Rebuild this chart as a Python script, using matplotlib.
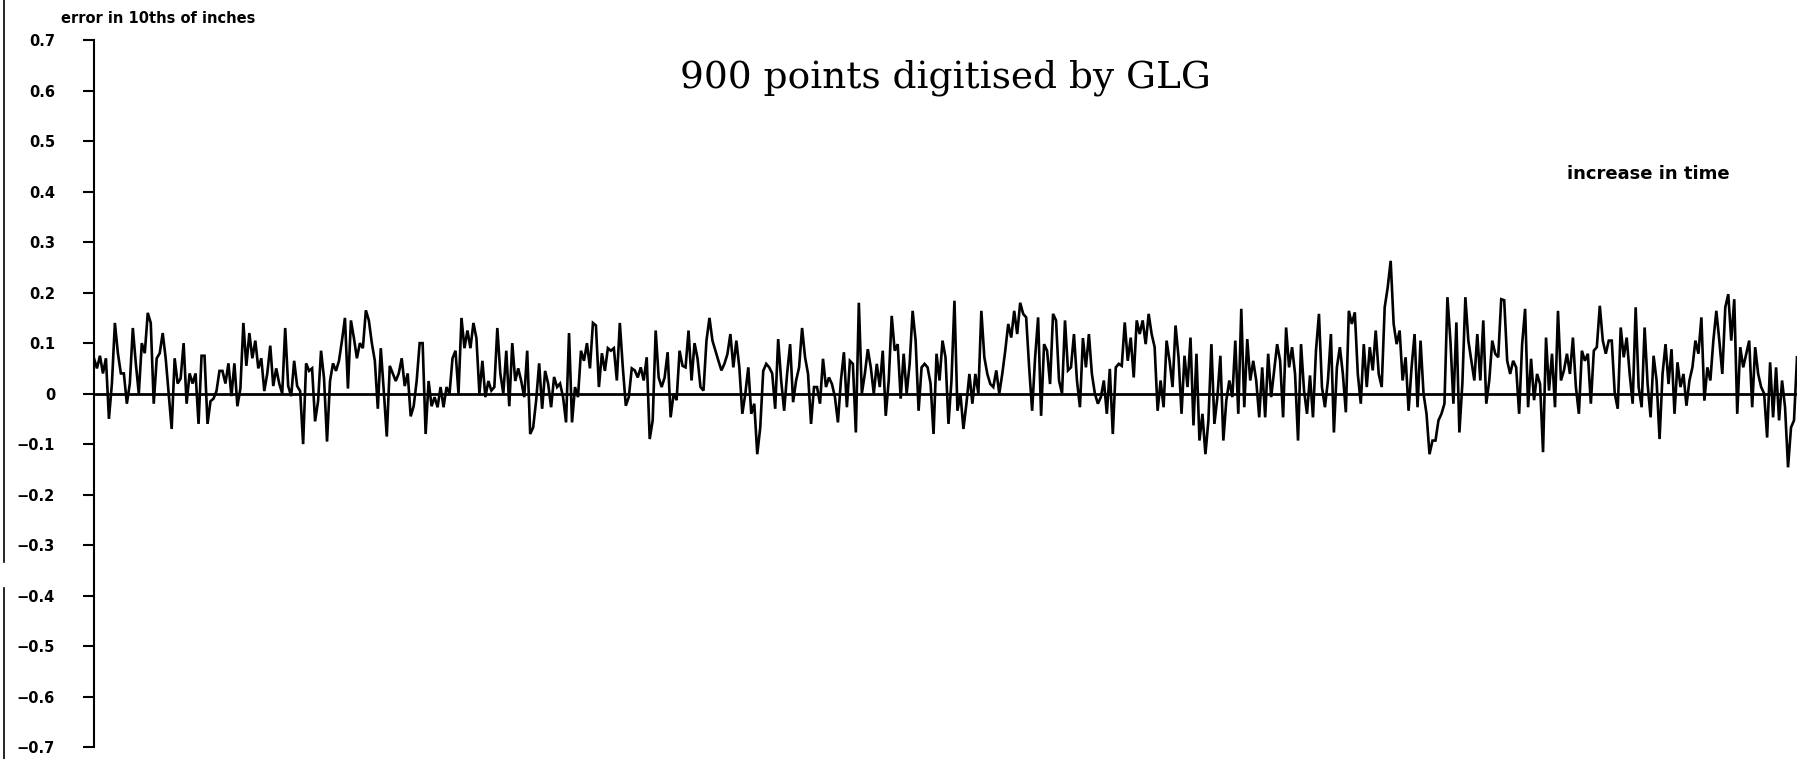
import numpy as np
import matplotlib
matplotlib.use("Agg")
import matplotlib.pyplot as plt
from matplotlib.lines import Line2D

seg1 = [0.07, 0.05, 0.075, 0.04, 0.07, -0.05, 0.02, 0.14, 0.08, 0.04, 0.04, -0.02, 0.02, 0.13,
        0.06, 0.0, 0.1, 0.08, 0.16, 0.14, -0.02, 0.07, 0.08, 0.12, 0.07, 0.0, -0.07, 0.07, 0.02,
        0.03, 0.1, -0.02, 0.04, 0.02, 0.04, -0.06, 0.075, 0.075, -0.06, -0.015, -0.01, 0.005,
        0.045, 0.045, 0.02, 0.06, -0.005, 0.06, -0.025, 0.01, 0.14, 0.055, 0.12, 0.07, 0.105,
        0.05, 0.07, 0.005]
seg2 = [0.04, 0.095, 0.015, 0.05, 0.02, 0.0, 0.13, 0.015, -0.005, 0.065, 0.015, 0.005, -0.1,
        0.06, 0.045, 0.05, -0.055, -0.015, 0.085, 0.03, -0.095, 0.025, 0.06, 0.045, 0.065,
        0.105, 0.15, 0.01, 0.145, 0.11, 0.07, 0.1, 0.09, 0.165, 0.145, 0.1, 0.065, -0.03, 0.09,
        0.005, -0.085, 0.055, 0.04, 0.025, 0.04, 0.07, 0.015, 0.04, -0.045, -0.025, 0.025, 0.1]
seg3 = [0.1, -0.08, 0.025, -0.025, -0.007, -0.027, 0.013, -0.027, 0.013, 0.0, 0.07, 0.085,
        0.0, 0.15, 0.09, 0.125, 0.09, 0.14, 0.11, 0.0, 0.065, -0.007, 0.025, 0.006, 0.013,
        0.13, 0.04, 0.0, 0.085, -0.025, 0.1, 0.025, 0.05, 0.025, -0.007, 0.085, -0.08, -0.067,
        -0.013, 0.06, -0.03, 0.045, 0.02, -0.027, 0.033, 0.013, 0.02, -0.007, -0.057, 0.12,
        -0.057, 0.013, -0.007, 0.085, 0.065, 0.1, 0.05, 0.14, 0.135, 0.013, 0.08, 0.045, 0.09]
seg4 = [0.085, 0.09, 0.026, 0.14, 0.052, -0.024, -0.007, 0.05, 0.046, 0.032, 0.052, 0.026,
        0.072, -0.09, -0.053, 0.125, 0.032, 0.013, 0.032, 0.082, -0.047, 0.0, -0.013, 0.085,
        0.055, 0.052, 0.125, 0.026, 0.1, 0.07, 0.013, 0.006, 0.105, 0.15, 0.105, 0.085, 0.065,
        0.046, 0.059, 0.078, 0.118, 0.052, 0.105, 0.052, -0.04, 0.0, 0.052, -0.04, -0.02,
        -0.12, -0.067, 0.045, 0.059]
seg5 = [0.052, 0.04, -0.03, 0.108, 0.026, -0.034, 0.04, 0.098, -0.017, 0.026, 0.052, 0.13,
        0.072, 0.039, -0.06, 0.013, 0.013, -0.02, 0.069, 0.013, 0.032, 0.019, -0.007, -0.057,
        0.026, 0.082, -0.027, 0.065, 0.059, -0.077, 0.18, 0.0, 0.039, 0.088, 0.052, 0.0, 0.059,
        0.013, 0.085, -0.044, 0.026, 0.154, 0.085, 0.098, -0.01, 0.079, 0.0, 0.059, 0.164,
        0.105, -0.034, 0.052, 0.059]
seg6 = [0.052, 0.02, -0.08, 0.079, 0.026, 0.105, 0.072, -0.06, 0.026, 0.184, -0.034, 0.0,
        -0.07, -0.02, 0.039, -0.02, 0.039, 0.0, 0.164, 0.072, 0.039, 0.019, 0.013, 0.046, 0.0,
        0.039, 0.085, 0.138, 0.111, 0.164, 0.118, 0.18, 0.158, 0.151, 0.052, -0.034, 0.072,
        0.151, -0.044, 0.098, 0.085, 0.019, 0.158, 0.145, 0.026, 0.0, 0.145, 0.046, 0.052,
        0.118, 0.026, -0.027, 0.11, 0.052, 0.118, 0.039, 0.0, -0.02]
seg7 = [-0.007, 0.026, -0.04, 0.049, -0.08, 0.052, 0.059, 0.055, 0.141, 0.065, 0.111, 0.032,
        0.145, 0.118, 0.145, 0.098, 0.158, 0.118, 0.092, -0.034, 0.026, -0.027, 0.105, 0.065,
        0.013, 0.135, 0.072, -0.04, 0.075, 0.013, 0.111, -0.063, 0.079, -0.093, -0.04, -0.12,
        -0.053, 0.098, -0.06, -0.007, 0.075, -0.093, -0.013, 0.026, -0.007, 0.105, -0.04,
        0.168, -0.027, 0.108, 0.026, 0.065, 0.026, -0.047]
seg8 = [0.052, -0.047, 0.079, -0.007, 0.046, 0.098, 0.065, -0.047, 0.131, 0.052, 0.092, 0.039,
        -0.093, 0.098, 0.006, -0.04, 0.036, -0.047, 0.085, 0.158, 0.013, -0.027, 0.026, 0.118,
        -0.077, 0.052, 0.092, 0.039, -0.037, 0.164, 0.138, 0.161, 0.039, -0.02, 0.098, 0.013,
        0.092, 0.046, 0.125, 0.039, 0.013, 0.171, 0.21, 0.263, 0.138, 0.098, 0.125, 0.026,
        0.072, -0.034, 0.052, 0.118, -0.027, 0.105, 0.0, -0.04, -0.12, -0.093]
seg9 = [-0.093, -0.053, -0.04, -0.02, 0.191, 0.105, -0.02, 0.141, -0.077, 0.02, 0.191, 0.105,
        0.065, 0.026, 0.118, 0.026, 0.145, -0.02, 0.026, 0.105, 0.079, 0.072, 0.187, 0.185,
        0.065, 0.039, 0.065, 0.052, -0.04, 0.098, 0.168, -0.027, 0.069, -0.013, 0.039, 0.019,
        -0.116, 0.111, 0.006, 0.079, -0.027, 0.164, 0.026, 0.046, 0.079, 0.039, 0.111, 0.013,
        -0.04, 0.085, 0.065, 0.079, -0.02, 0.085, 0.092, 0.174, 0.105, 0.079, 0.105]
seg10 = [0.105, 0.0, -0.03, 0.131, 0.072, 0.111, 0.039, -0.02, 0.171, 0.013, -0.027, 0.131,
         0.019, -0.047, 0.075, 0.026, -0.09, 0.039, 0.098, 0.019, 0.088, -0.04, 0.062, 0.013,
         0.039, -0.024, 0.026, 0.052, 0.105, 0.079, 0.151, -0.014, 0.052, 0.026, 0.105, 0.164,
         0.105, 0.039, 0.171, 0.197, 0.105, 0.187, -0.04, 0.092, 0.052, 0.079, 0.105, -0.027,
         0.092, 0.039, 0.013, 0.0, -0.087, 0.062, -0.047, 0.052, -0.053, 0.026, -0.027, -0.146,
         -0.067, -0.053, 0.072]

yticks = [0.7, 0.6, 0.5, 0.4, 0.3, 0.2, 0.1, 0, -0.1, -0.2, -0.3, -0.4, -0.5, -0.6, -0.7]
ytick_labels = ['0.7', '0.6', '0.5', '0.4', '0.3', '0.2', '0.1', '0',
                '\u22120.1', '\u22120.2', '\u22120.3', '\u22120.4', '\u22120.5', '\u22120.6', '\u22120.7']

err = np.array(seg1 + seg2 + seg3 + seg4 + seg5 + seg6 + seg7 + seg8 + seg9 + seg10)

fig = plt.figure(figsize=(17.97, 7.59), dpi=100)
ax = fig.add_axes([0.0523, 0.0158, 0.9477, 0.9312])

ax.plot(np.arange(len(err)), err, color='black', lw=1.9, solid_joinstyle='miter')
ax.axhline(0, color='black', lw=2.0)

ax.set_xlim(0, len(err) - 1)
ax.set_ylim(-0.7, 0.7)
for side in ('top', 'right', 'bottom'):
    ax.spines[side].set_visible(False)
ax.spines['left'].set_linewidth(1.5)
ax.set_xticks([])
ax.set_yticks(yticks)
ax.set_yticklabels(ytick_labels, fontsize=10.5, fontweight='bold')
ax.tick_params(axis='y', direction='out', length=8, width=1.5, pad=20)

fig.text(0.526, 0.897, '900 points digitised by GLG', family='DejaVu Serif',
         fontsize=27, ha='center', va='center')
fig.text(0.034, 0.975, 'error in 10ths of inches', fontsize=10.5, fontweight='bold',
         ha='left', va='center')
fig.text(0.872, 0.771, 'increase in time', fontsize=13, fontweight='bold',
         ha='left', va='center')

# scanned page border on the far left
fig.add_artist(Line2D([0.002, 0.002], [1.0, 0.26], transform=fig.transFigure, color='black', lw=1.2))
fig.add_artist(Line2D([0.002, 0.002], [0.225, 0.0], transform=fig.transFigure, color='black', lw=1.2))

fig.savefig('out.png', dpi=100)
